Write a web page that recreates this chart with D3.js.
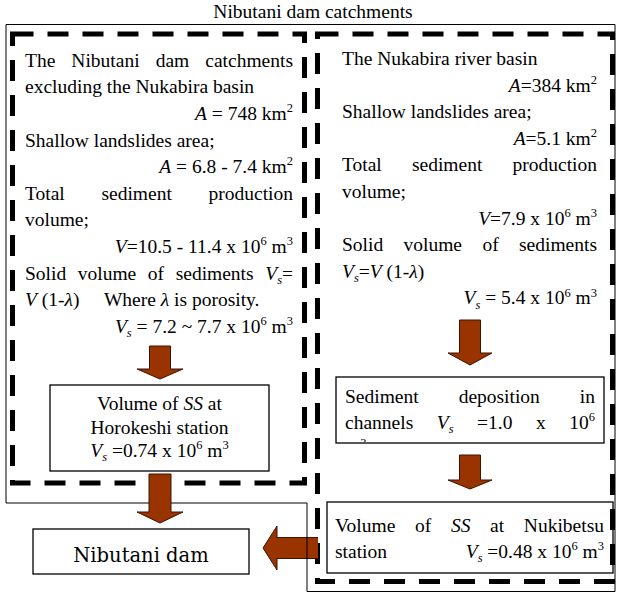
<!DOCTYPE html>
<html>
<head>
<meta charset="utf-8">
<script src="https://cdn.jsdelivr.net/npm/d3@7"></script>
<style>
  body { margin: 0; background: #fff; }
  svg text { font-family: "Liberation Serif", "Times New Roman", serif; fill: #000; }
</style>
</head>
<body>
<svg id="fig" width="618" height="593"></svg>
<script>
// ---- content ----
const title = "Nibutani dam catchments";

const leftLines = [
  "The Nibutani dam catchments",
  "excluding the Nukabira basin",
  "<i>A</i> = 748 km<sup>2</sup>",
  "Shallow landslides area;",
  "<i>A</i> = 6.8 - 7.4 km<sup>2</sup>",
  "Total sediment production",
  "volume;",
  "<i>V</i>=10.5 - 11.4 x 10<sup>6</sup> m<sup>3</sup>",
  "Solid volume of sediments <i>V<sub>s</sub></i>=",
  "<i>V</i> (1-<i>λ</i>)     Where <i>λ</i> is porosity.",
  "<i>V<sub>s</sub></i> = 7.2 ~ 7.7 x 10<sup>6</sup> m<sup>3</sup>"
];
const leftAlign = ["j", "l", "r", "l", "r", "j", "l", "r", "j", "l", "r"];

const rightLines = [
  "The Nukabira river basin",
  "<i>A</i>=384 km<sup>2</sup>",
  "Shallow landslides area;",
  "<i>A</i>=5.1 km<sup>2</sup>",
  "Total sediment production",
  "volume;",
  "<i>V</i>=7.9 x 10<sup>6</sup> m<sup>3</sup>",
  "Solid volume of sediments",
  "<i>V<sub>s</sub></i>=<i>V</i> (1-<i>λ</i>)",
  "<i>V<sub>s</sub></i> = 5.4 x 10<sup>6</sup> m<sup>3</sup>"
];
const rightAlign = ["l", "r", "l", "r", "j", "l", "r", "j", "l", "r"];

const horokeshiLines = [
  "Volume of <i>SS</i> at",
  "Horokeshi station",
  "<i>V<sub>s</sub></i> =0.74 x 10<sup>6</sup> m<sup>3</sup>"
];
// third line of this box is cut off by the frame in the original figure
const depositionLines = [
  "Sediment deposition in",
  "channels <i>V<sub>s</sub></i> =1.0 x 10<sup>6</sup>",
  "m<sup>3</sup>"
];
const nukibetsuLines = [
  "Volume of <i>SS</i> at Nukibetsu",
  "station\t<i>V<sub>s</sub></i> =0.48 x 10<sup>6</sup> m<sup>3</sup>"
];
const damLabel = "Nibutani dam";

// ---- drawing ----
const svg = d3.select("#fig");
const arrowFill = "#993300", arrowStroke = "#3a1400";
const fontSize = 19.5;

function parseRich(str) {
  let segs = [], italic = 0, shift = null;
  str.split(/(<\/?(?:i|sup|sub)>)/).forEach(function(p) {
    if (p === "<i>") italic++;
    else if (p === "</i>") italic--;
    else if (p === "<sup>") shift = "sup";
    else if (p === "<sub>") shift = "sub";
    else if (p === "</sup>" || p === "</sub>") shift = null;
    else if (p.length) segs.push({ text: p, italic: italic > 0, shift: shift });
  });
  return segs;
}

function drawWord(g, word, x, y, size) {
  const t = g.append("text").attr("x", x).attr("y", y).style("font-size", size + "px");
  let off = 0;
  parseRich(word).forEach(function(s) {
    const target = s.shift === "sup" ? -size * 0.4 : s.shift === "sub" ? size * 0.22 : 0;
    t.append("tspan")
      .attr("dy", target - off)
      .style("font-style", s.italic ? "italic" : null)
      .style("font-size", s.shift ? (size * 0.64) + "px" : null)
      .text(s.text);
    off = target;
  });
  return t;
}

function layoutLine(g, str, align, x0, x1, y, size) {
  // a tab splits the line: left part flush left, the rest flush right
  if (str.indexOf("\t") >= 0) {
    const parts = str.split("\t");
    layoutLine(g, parts[0], "l", x0, x1, y, size);
    layoutLine(g, parts[1], "r", x0, x1, y, size);
    return;
  }
  const words = str.split(" ");
  const space = size * 0.25;
  const nodes = words.map(function(w) { return drawWord(g, w, 0, y, size); });
  const widths = nodes.map(function(n) { return n.node().getComputedTextLength(); });
  const sum = d3.sum(widths);
  const natural = sum + space * (words.length - 1);
  let x, gap = space;
  if (align === "j" && words.length > 1) { x = x0; gap = (x1 - x0 - sum) / (words.length - 1); }
  else if (align === "r") x = x1 - natural;
  else if (align === "c") x = (x0 + x1) / 2 - natural / 2;
  else x = x0;
  nodes.forEach(function(n, i) {
    n.attr("x", x);
    x += widths[i] + gap;
  });
}

function textBlock(lines, aligns, x0, x1, y0, step, size) {
  const g = svg.append("g");
  lines.forEach(function(l, i) {
    const a = typeof aligns === "string" ? aligns : aligns[i];
    layoutLine(g, l, a, x0, x1, y0 + i * step, size);
  });
  return g;
}

function downArrow(cx, top, headBase, tip, shaftW, headW) {
  const p = d3.path();
  p.moveTo(cx - shaftW / 2, top);
  p.lineTo(cx + shaftW / 2, top);
  p.lineTo(cx + shaftW / 2, headBase);
  p.lineTo(cx + headW / 2, headBase);
  p.lineTo(cx, tip);
  p.lineTo(cx - headW / 2, headBase);
  p.lineTo(cx - shaftW / 2, headBase);
  p.closePath();
  svg.append("path").attr("d", p.toString())
    .attr("fill", arrowFill).attr("stroke", arrowStroke).attr("stroke-width", 1);
}

function leftArrow(cy, right, headBase, tip, shaftH, headH) {
  const p = d3.path();
  p.moveTo(right, cy - shaftH / 2);
  p.lineTo(headBase, cy - shaftH / 2);
  p.lineTo(headBase, cy - headH / 2);
  p.lineTo(tip, cy);
  p.lineTo(headBase, cy + headH / 2);
  p.lineTo(headBase, cy + shaftH / 2);
  p.lineTo(right, cy + shaftH / 2);
  svg.append("path").attr("d", p.toString())
    .attr("fill", arrowFill).attr("stroke", arrowStroke).attr("stroke-width", 1);
}

function box(x0, y0, x1, y1) {
  svg.append("rect").attr("x", x0).attr("y", y0)
    .attr("width", x1 - x0).attr("height", y1 - y0)
    .attr("fill", "#fff").attr("stroke", "#000").attr("stroke-width", 1.3);
}

// title
svg.append("text").attr("x", 313).attr("y", 18).attr("text-anchor", "middle")
  .style("font-size", "19.5px").text(title);

// inner boxes (under the dashed outlines)
box(50, 385, 269, 471);
box(336, 377, 604, 443);
box(327, 502, 613, 573);
box(33, 529, 249, 574);

// dashed catchment outlines
[[12.5, 34, 304.5, 483], [317.5, 34, 612.5, 581.5]].forEach(function(r) {
  svg.append("rect").attr("x", r[0]).attr("y", r[1])
    .attr("width", r[2] - r[0]).attr("height", r[3] - r[1])
    .attr("fill", "none").attr("stroke", "#000")
    .attr("stroke-width", 5).attr("stroke-dasharray", "21 14");
});

// arrow into the dam from the Nukibetsu side
leftArrow(548, 318, 277, 263, 21, 44);

// thin outline of the whole catchment
svg.append("path")
  .attr("d", d3.line()([[6, 24.5], [615, 24.5], [615, 591.5], [307, 591.5], [307, 503], [6, 503]]) + "Z")
  .attr("fill", "none").attr("stroke", "#000").attr("stroke-width", 1);

// down arrows
downArrow(160, 346, 369, 379, 21, 46);
downArrow(160, 474, 512, 523, 22, 46);
downArrow(470, 320, 353, 365, 21, 44);
downArrow(470, 455, 480, 489, 21, 44);

// texts
textBlock(leftLines, leftAlign, 25, 293, 66.7, 26.6, fontSize);
textBlock(rightLines, rightAlign, 342, 597, 65, 26.6, fontSize);
textBlock(horokeshiLines, "c", 50, 269, 410, 23.5, fontSize);
textBlock(nukibetsuLines, "j", 335, 604, 532, 26, fontSize);

svg.append("clipPath").attr("id", "depClip")
  .append("rect").attr("x", 336).attr("y", 377).attr("width", 268).attr("height", 65);
textBlock(depositionLines, ["j", "j", "l"], 345, 595, 403, 26, fontSize)
  .attr("clip-path", "url(#depClip)");

svg.append("text").attr("x", 141).attr("y", 562).attr("text-anchor", "middle")
  .style("font-family", "'DejaVu Serif', serif").style("font-size", "19.5px")
  .text(damLabel);
</script>
</body>
</html>
